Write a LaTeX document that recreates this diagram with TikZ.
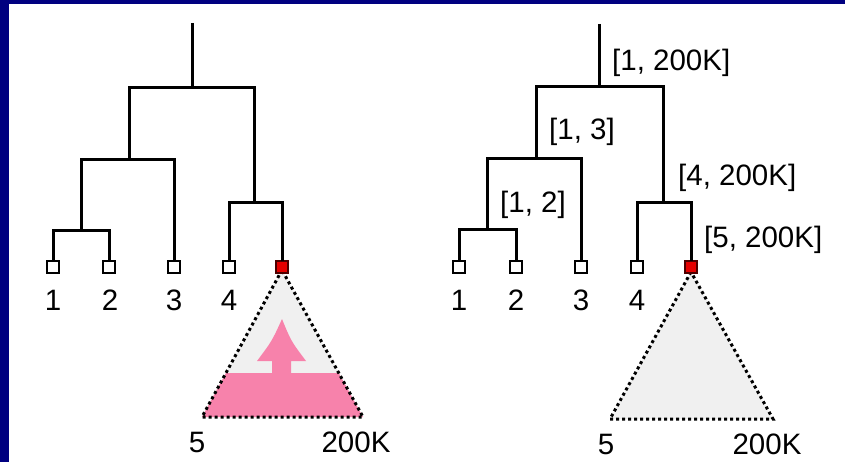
\documentclass[tikz,border=0pt]{standalone}
\usepackage{fontspec}
\setmainfont{Liberation Sans}
\begin{document}
\begin{tikzpicture}[x=1pt,y=-1pt,
  tline/.style={line width=3pt,line join=miter},
  leaf/.style={draw=black,fill=white,line width=2pt,minimum size=12pt,inner sep=0pt,outer sep=0pt},
  redleaf/.style={draw=black!70!red,fill=red!90!black,line width=2pt,minimum size=12.5pt,inner sep=0pt,outer sep=0pt},
  lbl/.style={font=\fontsize{29.5}{32}\selectfont,inner sep=0pt},
  dotl/.style={draw=black,line width=3pt,dash pattern=on 3pt off 3pt},
]
\definecolor{navyb}{RGB}{0,0,128}
\definecolor{lightgr}{RGB}{240,240,240}
\definecolor{pinkf}{RGB}{247,130,171}
\useasboundingbox (0,0) rectangle (845,462);
\fill[white] (0,0) rectangle (845,462);
\fill[navyb] (0,0) rectangle (845,4);
\fill[navyb] (0,0) rectangle (9,462);

% ---------------- left tree ----------------
\fill[lightgr] (282,270) -- (202,417) -- (363,417) -- cycle;
\begin{scope}
  \clip (282,270) -- (202,417) -- (363,417) -- cycle;
  \fill[pinkf] (150,373) rectangle (400,420);
\end{scope}
\fill[pinkf] (282,319) .. controls (272,341) .. (257,361) -- (272,361) -- (272,374)
  -- (291,374) -- (291,361) -- (306,361) .. controls (291,341) .. (282,319) -- cycle;
\draw[dotl] (282,270) -- (202,417) -- (363,417) -- cycle;

\coordinate (a0) at (192,23);
\coordinate (a1) at (192,88);
\coordinate (a2) at (129,160);
\coordinate (a3) at (254,203);
\coordinate (a4) at (81,231);
\node[leaf] (al1) at (53,267) {};
\node[leaf] (al2) at (109,267) {};
\node[leaf] (al3) at (174,267) {};
\node[leaf] (al4) at (229,267) {};
\node[redleaf] (al5) at (282,267) {};
\draw[tline] (a0) -- (a1);
\draw[tline] (a1) -| (a2);
\draw[tline] (a1) -| (a3);
\draw[tline] (a2) -| (a4);
\draw[tline] (a2) -| (al3);
\draw[tline] (a4) -| (al1);
\draw[tline] (a4) -| (al2);
\draw[tline] (a3) -| (al4);
\draw[tline] (a3) -| (al5);
\node[lbl] (at1) at (53,300) {1};
\node[lbl] (at2) at (110,300) {2};
\node[lbl] (at3) at (174,300) {3};
\node[lbl] (at4) at (229,300) {4};
\node[lbl] (at5) at (197,442) {5};
\node[lbl] (at6) at (356,442) {200K};

% ---------------- right tree ----------------
\fill[lightgr] (691,272) -- (610,419) -- (773,419) -- cycle;
\draw[dotl] (691,272) -- (610,419) -- (773,419) -- cycle;

\coordinate (b0) at (599,24);
\coordinate (b1) at (599,87);
\coordinate (b2) at (536,159);
\coordinate (b3) at (663,203);
\coordinate (b4) at (487,230);
\node[leaf] (bl1) at (459,267) {};
\node[leaf] (bl2) at (516,267) {};
\node[leaf] (bl3) at (581,267) {};
\node[leaf] (bl4) at (637,267) {};
\node[redleaf] (bl5) at (691,267) {};
\draw[tline] (b0) -- (b1);
\draw[tline] (b1) -| (b2);
\draw[tline] (b1) -| (b3);
\draw[tline] (b2) -| (b4);
\draw[tline] (b2) -| (bl3);
\draw[tline] (b4) -| (bl1);
\draw[tline] (b4) -| (bl2);
\draw[tline] (b3) -| (bl4);
\draw[tline] (b3) -| (bl5);
\node[lbl] (bt1) at (459,300) {1};
\node[lbl] (bt2) at (516,300) {2};
\node[lbl] (bt3) at (581,300) {3};
\node[lbl] (bt4) at (637,300) {4};
\node[lbl] (bt5) at (606,444) {5};
\node[lbl] (bt6) at (767,444) {200K};

\node[lbl,anchor=west] (c1) at (612,63) {[1, 200K]};
\node[lbl,anchor=west] (c2) at (549,132) {[1, 3]};
\node[lbl,anchor=west] (c3) at (678,178) {[4, 200K]};
\node[lbl,anchor=west] (c4) at (500,205) {[1, 2]};
\node[lbl,anchor=west] (c5) at (704,240) {[5, 200K]};
\end{tikzpicture}
\end{document}
